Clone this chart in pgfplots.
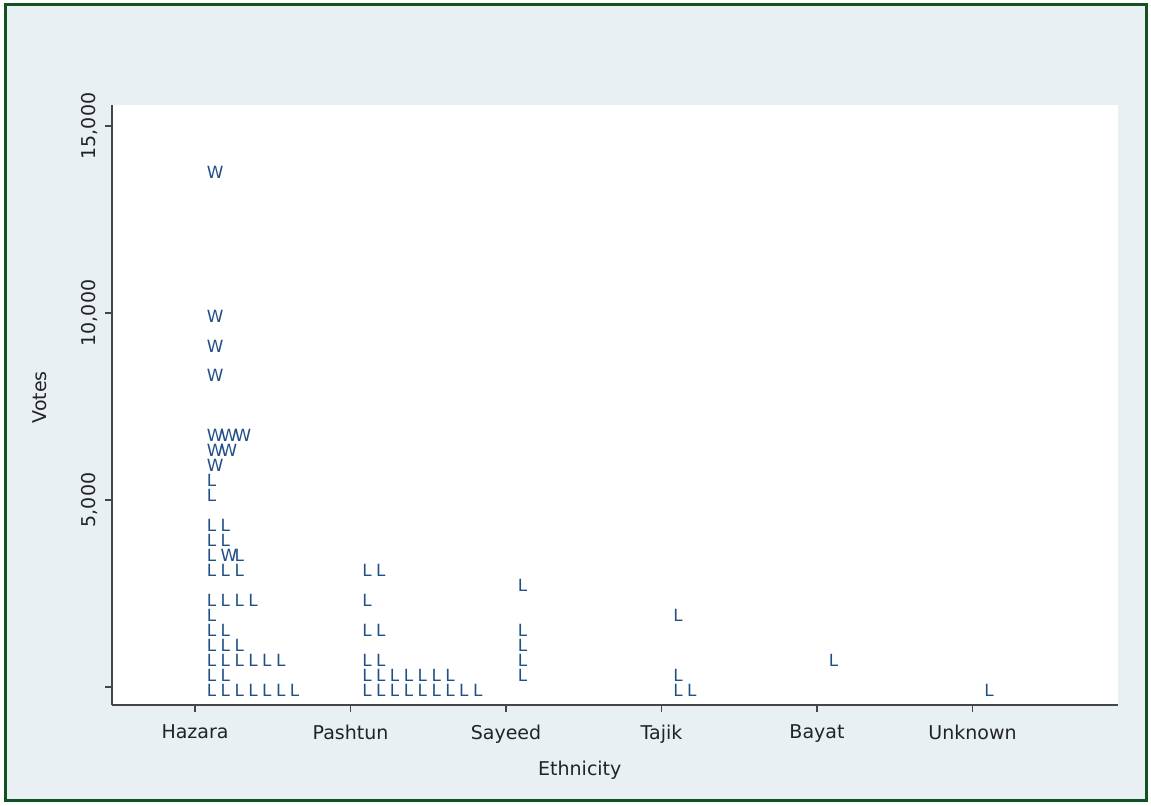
\documentclass[border=0pt]{standalone}
\usepackage{fontspec}
\setmainfont{DejaVu Sans}
\usepackage{pgfplots}
\usepackage{pgfplotstable}
\pgfplotsset{compat=1.18}

\definecolor{bgblue}{RGB}{232,240,243}
\definecolor{framegreen}{RGB}{18,82,32}
\definecolor{markblue}{RGB}{32,80,135}
\definecolor{axisgray}{RGB}{70,70,70}
\definecolor{textdark}{RGB}{35,35,35}

% x = category (0 Hazara ... 5 Unknown) + stack offset, y = votes (binned)
\pgfplotstableread{
x     y
0.000 0
0.089 0
0.178 0
0.267 0
0.356 0
0.445 0
0.534 0
0.000 400
0.089 400
0.000 800
0.089 800
0.178 800
0.267 800
0.356 800
0.445 800
0.000 1200
0.089 1200
0.178 1200
0.000 1600
0.089 1600
0.000 2000
0.000 2400
0.089 2400
0.178 2400
0.267 2400
0.000 3200
0.089 3200
0.178 3200
0.000 3600
0.178 3600
0.000 4000
0.089 4000
0.000 4400
0.089 4400
0.000 5200
0.000 5600
1.000 0
1.089 0
1.178 0
1.267 0
1.356 0
1.445 0
1.534 0
1.623 0
1.712 0
1.000 400
1.089 400
1.178 400
1.267 400
1.356 400
1.445 400
1.534 400
1.000 800
1.089 800
1.000 1600
1.089 1600
1.000 2400
1.000 3200
1.089 3200
2.000 400
2.000 800
2.000 1200
2.000 1600
2.000 2800
3.000 0
3.089 0
3.000 400
3.000 2000
4.000 800
5.000 0
}\losers

\pgfplotstableread{
x     y
0.089 3600
0.000 6000
0.000 6400
0.089 6400
0.000 6800
0.089 6800
0.178 6800
0.000 8400
0.000 9200
0.000 10000
0.000 13850
}\winners

\begin{document}
\begin{tikzpicture}
  \path[use as bounding box] (0,0) rectangle (575.5pt,402.5pt);
  \fill[white] (0,0) rectangle (575.5pt,402.5pt);
  \fill[bgblue] (2.5pt,2.5pt) rectangle (573pt,400pt);
  \draw[framegreen, line width=1.5pt] (2.5pt,2.5pt) rectangle (573pt,400pt);
  \begin{axis}[
    at={(56pt,50pt)}, anchor=south west,
    scale only axis,
    width=503pt, height=300pt,
    xmin=-0.534, xmax=5.936,
    ymin=-481, ymax=15561,
    axis background/.style={fill=white},
    axis x line*=bottom, axis y line*=left,
    axis line style={draw=axisgray, line width=0.8pt, -},
    tick style={draw=axisgray, line width=0.8pt},
    tick align=outside,
    major tick length=3.5pt,
    scaled y ticks=false,
    xtick={0,1,2,3,4,5},
    xticklabels={Hazara,Pashtun,Sayeed,Tajik,Bayat,Unknown},
    ytick={0,5000,10000,15000},
    yticklabels={{},{5,000},{10,000},{15,000}},
    tick label style={font=\fontsize{9.5}{11}\selectfont, text=textdark},
    xticklabel style={yshift=-3pt},
    yticklabel style={rotate=90, anchor=south},
    /pgf/number format/assume math mode=true,
    xlabel={Ethnicity},
    ylabel={Votes},
    label style={font=\fontsize{9.5}{11}\selectfont, text=textdark},
    xlabel style={at={(axis description cs:0.465,-0.108)}, anchor=center},
    ylabel style={at={(axis description cs:-0.0716,0.513)}, anchor=center},
    every node near coord/.append style={
      font=\fontsize{8.4}{9}\selectfont, text=markblue,
      anchor=west, inner sep=0pt, xshift=5.7pt, yshift=-1.5pt},
    clip=false,
  ]
  \addplot[draw=none, mark=none, nodes near coords={L}] table[x=x, y=y] {\losers};
  \addplot[draw=none, mark=none, nodes near coords={W}] table[x=x, y=y] {\winners};
  \end{axis}
\end{tikzpicture}
\end{document}
